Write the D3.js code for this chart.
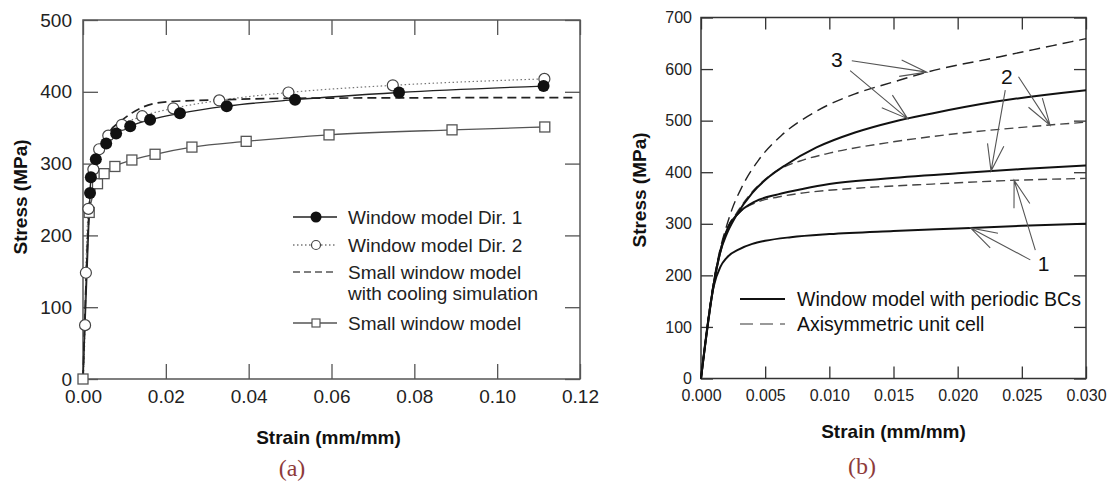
<!DOCTYPE html>
<html>
<head>
<meta charset="utf-8">
<script src="https://cdn.jsdelivr.net/npm/d3@7"></script>
<style>
  body { margin: 0; background: #fff; }
  svg { display: block; font-family: "Liberation Sans", Arial, sans-serif; }
</style>
</head>
<body>
<svg id="chart" width="1112" height="483"></svg>
<script>
// ---- panel (a): window models, strain (mm/mm) vs stress (MPa) ----
const aXTicks = [0, 0.02, 0.04, 0.06, 0.08, 0.10, 0.12];
const aYTicks = [0, 100, 200, 300, 400, 500];

const dir1Strain = [0.0017, 0.0019, 0.0031, 0.0056, 0.008, 0.0114, 0.0162, 0.0234, 0.0347, 0.0512, 0.0763, 0.1112];
const dir1Stress = [259, 281, 306, 328, 342, 352, 361, 370, 380, 389, 399, 408];

const dir2Strain = [0.0005, 0.0007, 0.0013, 0.0025, 0.0039, 0.0061, 0.0094, 0.0143, 0.0218, 0.0329, 0.0496, 0.0748, 0.1114];
const dir2Stress = [75, 148, 237, 292, 320, 339, 354, 366, 377, 388, 399, 409, 418];

const coolStrain = [0, 0.0015, 0.003, 0.0045, 0.0057, 0.0065, 0.0089, 0.0114, 0.0138, 0.0202, 0.034, 0.05, 0.119];
const coolStress = [0, 235, 300, 322, 336, 345, 358, 369, 377, 386, 389, 391, 392];

const smallStrain = [0, 0.0015, 0.0035, 0.0051, 0.0077, 0.0118, 0.0174, 0.0263, 0.0394, 0.0594, 0.0891, 0.1115];
const smallStress = [0, 232, 272, 286, 296, 305, 313, 323, 331, 340, 347, 351];

// ---- panel (b): periodic window model vs axisymmetric unit cell ----
const bXTicks = [0, 0.005, 0.010, 0.015, 0.020, 0.025, 0.030];
const bYTicks = [0, 100, 200, 300, 400, 500, 600, 700];

const win1Strain = [0, 0.001, 0.0015, 0.002, 0.003, 0.004, 0.005, 0.007, 0.01, 0.015, 0.02, 0.025, 0.03];
const win1Stress = [0, 180, 216, 234, 251, 261, 267, 274, 280, 286, 291, 296, 300];
const win2Strain = [0, 0.001, 0.0015, 0.0021, 0.0029, 0.0042, 0.006, 0.008, 0.01, 0.014, 0.02, 0.025, 0.03];
const win2Stress = [0, 183, 245, 293, 320, 343, 357, 368, 377, 387, 398, 406, 413];
const win3Strain = [0, 0.001, 0.0015, 0.002, 0.0027, 0.004, 0.0053, 0.0066, 0.009, 0.012, 0.015, 0.018, 0.023, 0.03];
const win3Stress = [0, 185, 245, 280, 314, 360, 391, 414, 448, 477, 498, 514, 537, 559];

const axi1Strain = [0, 0.001, 0.0015, 0.002, 0.003, 0.0045, 0.006, 0.008, 0.011, 0.014, 0.018, 0.024, 0.03];
const axi1Stress = [0, 185, 245, 288, 322, 343, 352, 360, 367, 372, 377, 384, 388];
const axi2Strain = [0, 0.001, 0.0015, 0.002, 0.0027, 0.004, 0.0053, 0.006, 0.008, 0.01, 0.015, 0.02, 0.025, 0.03];
const axi2Stress = [0, 188, 250, 288, 318, 362, 392, 404, 424, 437, 459, 475, 487, 497];
const axi3Strain = [0, 0.001, 0.0015, 0.0019, 0.0024, 0.0032, 0.0045, 0.0063, 0.0089, 0.012, 0.015, 0.0176, 0.0233, 0.03];
const axi3Stress = [0, 190, 252, 288, 327, 372, 424, 472, 517, 552, 575, 594, 624, 659];

// callout labels and the curve points their arrows point to
const calloutText = ["3", "2", "1"];
const calloutAt = [[0.01058, 619], [0.02384, 585], [0.02669, 223]];
const arrowFrom = [[0.01175, 616], [0.01162, 597], [0.02371, 559], [0.02474, 585], [0.02605, 249], [0.02566, 230]];
const arrowCurve = ["axi3", "win3", "win2", "axi2", "axi1", "win1"];
const arrowStrain = [0.0176, 0.0161, 0.0226, 0.0272, 0.0244, 0.021];

const zip = (xs, ys) => xs.map((v, i) => [v, ys[i]]);
const svg = d3.select("#chart");

function styleAxis(g, size, color) {
  g.attr("font-size", size).attr("font-family", "Liberation Sans, Arial, sans-serif");
  g.select(".domain").remove();
  g.selectAll(".tick line").attr("stroke", color).attr("stroke-width", 1.3);
  g.selectAll(".tick text").attr("fill", "#222");
}

// boxed frame with inward ticks on every side
function frame(x, y, o) {
  const [x0, x1] = x.range();
  const [y0, y1] = y.range();
  svg.append("g").attr("transform", `translate(0,${y0})`)
    .call(d3.axisBottom(x).tickValues(o.xTicks).tickFormat(o.xFormat)
      .tickSize(-o.tick).tickSizeOuter(0).tickPadding(o.xPad))
    .call(styleAxis, o.font, o.color);
  svg.append("g").attr("transform", `translate(0,${y1})`)
    .call(d3.axisTop(x).tickValues(o.xTicks).tickFormat("").tickSize(-o.tick).tickSizeOuter(0))
    .call(styleAxis, o.font, o.color);
  svg.append("g").attr("transform", `translate(${x0},0)`)
    .call(d3.axisLeft(y).tickValues(o.yTicks).tickFormat(d3.format("d"))
      .tickSize(-o.tick).tickSizeOuter(0).tickPadding(o.yPad))
    .call(styleAxis, o.font, o.color);
  svg.append("g").attr("transform", `translate(${x1},0)`)
    .call(d3.axisRight(y).tickValues(o.yTicks).tickFormat("").tickSize(-o.tick).tickSizeOuter(0))
    .call(styleAxis, o.font, o.color);
  svg.append("rect")
    .attr("x", x0).attr("y", y1)
    .attr("width", x1 - x0).attr("height", y0 - y1)
    .attr("fill", "none").attr("stroke", o.color).attr("stroke-width", 1.5);

  // axis titles
  svg.append("text")
    .attr("x", (x0 + x1) / 2 + o.xTitleDx).attr("y", o.xTitleY)
    .attr("text-anchor", "middle").attr("font-weight", "bold")
    .attr("font-size", o.titleFont).attr("fill", "#111")
    .text("Strain (mm/mm)");
  svg.append("text")
    .attr("transform", `translate(${o.yTitleX},${o.yTitleMid}) rotate(-90)`)
    .attr("text-anchor", "middle").attr("font-weight", "bold")
    .attr("font-size", o.titleFont).attr("fill", "#111")
    .text("Stress (MPa)");
}

function caption(txt, cx, by) {
  svg.append("text")
    .attr("x", cx).attr("y", by)
    .attr("text-anchor", "middle")
    .attr("font-family", "Liberation Serif, 'DejaVu Serif', serif")
    .attr("font-size", 24).attr("fill", "#8e3b3b")
    .text(txt);
}

// ================= panel (a) =================
const xa = d3.scaleLinear([0, 0.12], [83, 580]);
const ya = d3.scaleLinear([0, 500], [379, 20]);

frame(xa, ya, {
  xTicks: aXTicks, yTicks: aYTicks, xFormat: d3.format(".2f"),
  tick: 15, xPad: 11, yPad: 11, font: 19, color: "#555",
  titleFont: 19, xTitleDx: -3, xTitleY: 444, yTitleX: 27, yTitleMid: 197
});

const lineA = d3.line().x(d => xa(d[0])).y(d => ya(d[1])).curve(d3.curveMonotoneX);

const gA = svg.append("g");
gA.append("path").datum(zip(smallStrain, smallStress))
  .attr("d", lineA).attr("fill", "none").attr("stroke", "#555").attr("stroke-width", 1.3);
gA.append("path").datum([[0, 0]].concat(zip(dir2Strain, dir2Stress)))
  .attr("d", lineA).attr("fill", "none").attr("stroke", "#777")
  .attr("stroke-width", 1.2).attr("stroke-dasharray", "1.5,2.5");
gA.append("path").datum([[0, 0]].concat(zip(dir1Strain, dir1Stress)))
  .attr("d", lineA).attr("fill", "none").attr("stroke", "#222").attr("stroke-width", 1.3);
gA.append("path").datum(zip(coolStrain, coolStress))
  .attr("d", lineA).attr("fill", "none").attr("stroke", "#222")
  .attr("stroke-width", 1.7).attr("stroke-dasharray", "9,5");

gA.selectAll("rect.sq").data(zip(smallStrain, smallStress)).join("rect")
  .attr("class", "sq")
  .attr("x", d => xa(d[0]) - 5).attr("y", d => ya(d[1]) - 5)
  .attr("width", 10).attr("height", 10)
  .attr("fill", "#fff").attr("stroke", "#555").attr("stroke-width", 1.3);
gA.selectAll("circle.open").data(zip(dir2Strain, dir2Stress)).join("circle")
  .attr("class", "open")
  .attr("cx", d => xa(d[0])).attr("cy", d => ya(d[1])).attr("r", 5.5)
  .attr("fill", "#fff").attr("stroke", "#444").attr("stroke-width", 1.2);
gA.selectAll("circle.filled").data(zip(dir1Strain, dir1Stress)).join("circle")
  .attr("class", "filled")
  .attr("cx", d => xa(d[0])).attr("cy", d => ya(d[1])).attr("r", 6)
  .attr("fill", "#111");

// legend (a)
const legA = svg.append("g").attr("font-size", 19).attr("fill", "#222");
const legARows = [
  { y: 217, text: ["Window model Dir. 1"], kind: "dir1" },
  { y: 245, text: ["Window model Dir. 2"], kind: "dir2" },
  { y: 272, text: ["Small window model", "with cooling simulation"], kind: "cool" },
  { y: 323, text: ["Small window model"], kind: "small" }
];
legARows.forEach(r => {
  const ln = legA.append("line").attr("x1", 293).attr("x2", 337).attr("y1", r.y).attr("y2", r.y)
    .attr("stroke-width", 1.3);
  if (r.kind === "dir1") {
    ln.attr("stroke", "#222");
    legA.append("circle").attr("cx", 316).attr("cy", r.y).attr("r", 5.5).attr("fill", "#111");
  } else if (r.kind === "dir2") {
    ln.attr("stroke", "#777").attr("stroke-dasharray", "1.5,2.5");
    legA.append("circle").attr("cx", 316).attr("cy", r.y).attr("r", 4.5)
      .attr("fill", "#fff").attr("stroke", "#444").attr("stroke-width", 1.2);
  } else if (r.kind === "cool") {
    ln.attr("stroke", "#555").attr("stroke-dasharray", "7,4").attr("stroke-width", 1.5);
  } else {
    ln.attr("stroke", "#555");
    legA.append("rect").attr("x", 312).attr("y", r.y - 4).attr("width", 8).attr("height", 8)
      .attr("fill", "#fff").attr("stroke", "#555").attr("stroke-width", 1.2);
  }
  r.text.forEach((t, i) => {
    legA.append("text").attr("x", 348).attr("y", r.y + i * 21).attr("dy", "0.35em").text(t);
  });
});

caption("(a)", 292, 476);

// ================= panel (b) =================
const xb = d3.scaleLinear([0, 0.03], [701, 1086]);
const yb = d3.scaleLinear([0, 700], [378.5, 17.5]);

frame(xb, yb, {
  xTicks: bXTicks, yTicks: bYTicks, xFormat: d3.format(".3f"),
  tick: 12, xPad: 11, yPad: 9, font: 16, color: "#333",
  titleFont: 19, xTitleDx: 0, xTitleY: 438, yTitleX: 646, yTitleMid: 190
});

const curvesB = {
  win1: zip(win1Strain, win1Stress),
  win2: zip(win2Strain, win2Stress),
  win3: zip(win3Strain, win3Stress),
  axi1: zip(axi1Strain, axi1Stress),
  axi2: zip(axi2Strain, axi2Stress),
  axi3: zip(axi3Strain, axi3Stress)
};

const lineB = d3.line().x(d => xb(d[0])).y(d => yb(d[1])).curve(d3.curveMonotoneX);
const gB = svg.append("g");

["axi1", "axi2", "axi3"].forEach(k => {
  gB.append("path").datum(curvesB[k]).attr("d", lineB)
    .attr("fill", "none").attr("stroke", k === "axi3" ? "#222" : "#444")
    .attr("stroke-width", 1.4).attr("stroke-dasharray", k === "axi3" ? "11,6" : "9,5");
});
["win1", "win2", "win3"].forEach(k => {
  gB.append("path").datum(curvesB[k]).attr("d", lineB)
    .attr("fill", "none").attr("stroke", "#111").attr("stroke-width", 2);
});

// stress on a curve at a given strain (linear between read points)
function stressOn(key, s) {
  const pts = curvesB[key];
  for (let i = 1; i < pts.length; i++) {
    if (s <= pts[i][0]) {
      const t = (s - pts[i - 1][0]) / (pts[i][0] - pts[i - 1][0]);
      return pts[i - 1][1] + t * (pts[i][1] - pts[i - 1][1]);
    }
  }
  return pts[pts.length - 1][1];
}

// open-headed callout arrows
const gArrow = gB.append("g").attr("stroke", "#555").attr("stroke-width", 1.1).attr("fill", "none");
arrowFrom.forEach((f, i) => {
  const sx = xb(f[0]), sy = yb(f[1]);
  const tx = xb(arrowStrain[i]), ty = yb(stressOn(arrowCurve[i], arrowStrain[i]));
  const ang = Math.atan2(sy - ty, sx - tx);
  const len = 28, spread = 0.3;
  const b1 = [tx + len * Math.cos(ang + spread), ty + len * Math.sin(ang + spread)];
  const b2 = [tx + len * Math.cos(ang - spread), ty + len * Math.sin(ang - spread)];
  gArrow.append("path")
    .attr("d", `M${sx},${sy}L${tx},${ty}M${b1[0]},${b1[1]}L${tx},${ty}L${b2[0]},${b2[1]}`);
});
calloutText.forEach((t, i) => {
  gB.append("text")
    .attr("x", xb(calloutAt[i][0])).attr("y", yb(calloutAt[i][1]))
    .attr("text-anchor", "middle").attr("dy", "0.36em")
    .attr("font-size", 21).attr("fill", "#111")
    .text(t);
});

// legend (b)
const legB = svg.append("g").attr("font-size", 19.5).attr("fill", "#111");
legB.append("line").attr("x1", 740).attr("x2", 785).attr("y1", 299).attr("y2", 299)
  .attr("stroke", "#111").attr("stroke-width", 2);
legB.append("line").attr("x1", 740).attr("x2", 785).attr("y1", 324).attr("y2", 324)
  .attr("stroke", "#999").attr("stroke-width", 2).attr("stroke-dasharray", "13,7");
legB.append("text").attr("x", 797).attr("y", 299).attr("dy", "0.35em").text("Window model with periodic BCs");
legB.append("text").attr("x", 797).attr("y", 324).attr("dy", "0.35em").text("Axisymmetric unit cell");

caption("(b)", 862, 474);
</script>
</body>
</html>
